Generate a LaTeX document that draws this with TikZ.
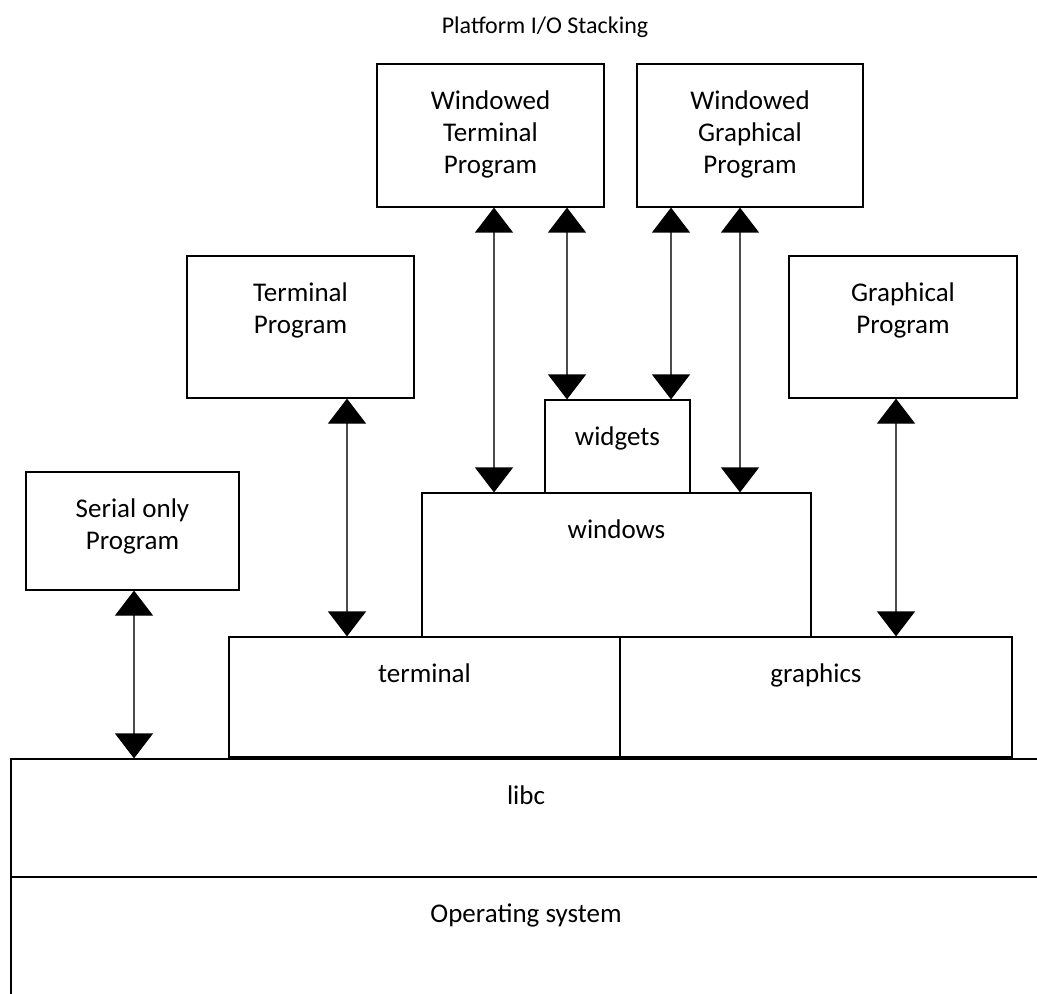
\documentclass[tikz,border=0pt]{standalone}
\usepackage{fontspec}
\setmainfont{Carlito}
\usetikzlibrary{arrows.meta,positioning}
\tikzstyle{box}=[draw,rectangle,inner sep=0pt,line width=.6pt]
\tikzstyle{lbl}=[align=center,inner sep=0pt,font=\fontsize{13.5}{16}\selectfont]
\tikzstyle{dbl}=[{Triangle[width=19pt,length=12.5pt,color=black]}-{Triangle[width=19pt,length=12.5pt,color=black]},
  line width=.6pt,draw=black!70]

\begin{document}
\begin{tikzpicture}[x=.5pt, y=-.5pt]
  \tikzstyle{top}=[label={[lbl,anchor=north,yshift=-13.5pt]north:{#1}}]
  \useasboundingbox (0,0) rectangle (1037,994);

  \node[lbl, font=\fontsize{12}{14}\selectfont] (title) at (545,27) {Platform I/O Stacking};

  \node[box, minimum width=113.5pt, minimum height=71.5pt,
        top={Windowed\\Terminal\\Program}] (wtp) at (490.5,135.5) {};
  \node[box, minimum width=113pt, minimum height=71.5pt,
        top={Windowed\\Graphical\\Program}] (wgp) at (750,135.5) {};
  \node[box, minimum width=113.5pt, minimum height=71pt,
        top={Terminal\\Program}] (tp) at (300.5,327) {};
  \node[box, minimum width=114pt, minimum height=71pt,
        top={Graphical\\Program}] (gp) at (903,327) {};
  \node[box, minimum width=106.5pt, minimum height=59pt,
        top={Serial only\\Program}] (sp) at (132.5,531) {};

  \node[box, minimum width=72.5pt, minimum height=46.5pt,
        top=widgets] (widg) at (617.5,446.5) {};
  \node[box, minimum width=194.5pt, minimum height=72pt,
        top=windows] (win) at (616.5,565) {};
  \node[box, minimum width=195.5pt, minimum height=60pt,
        top=terminal] (term) at (424.5,697) {};
  \node[box, minimum width=196pt, minimum height=60pt,
        top=graphics] (gfx) at (816,697) {};
  \node[box, minimum width=515pt, minimum height=59pt,
        top=libc] (libc) at (526,818) {};
  \node[box, minimum width=515pt, minimum height=61.5pt,
        top={Operating system}] (os) at (526,938.5) {};

  \draw[dbl] (sp.south -| 134,0) -- (libc.north -| 134,0);
  \draw[dbl] (tp.south -| 347,0) -- (term.north -| 347,0);
  \draw[dbl] (wtp.south -| 494,0) -- (win.north -| 494,0);
  \draw[dbl] (wtp.south -| 567,0) -- (widg.north -| 567,0);
  \draw[dbl] (wgp.south -| 671,0) -- (widg.north -| 671,0);
  \draw[dbl] (wgp.south -| 740,0) -- (win.north -| 740,0);
  \draw[dbl] (gp.south -| 896,0) -- (gfx.north -| 896,0);
\end{tikzpicture}
\end{document}
